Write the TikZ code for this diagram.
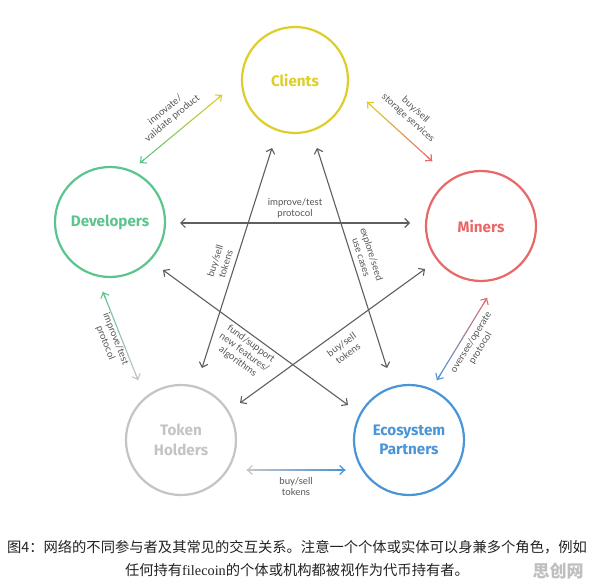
\documentclass[tikz,border=0pt]{standalone}
\usepackage{fontspec}
\setmainfont{Lato}
\newfontfamily\circfont{Fira Sans}
\newfontfamily\cjkfont{Noto Sans CJK SC}
\newfontfamily\capserif{Liberation Serif}
\usetikzlibrary{calc,arrows.meta}

\definecolor{cligold}{RGB}{222,206,42}
\definecolor{devgreen}{RGB}{92,197,142}
\definecolor{minred}{RGB}{232,104,104}
\definecolor{tokgray}{RGB}{196,196,196}
\definecolor{ecoblue}{RGB}{74,148,216}
\definecolor{linkgray}{RGB}{95,95,95}
\definecolor{labgray}{RGB}{85,85,85}
\definecolor{captext}{RGB}{35,35,35}

% line whose colour runs from #3 (at #1) to #4 (at #2)
\newcommand\gradlink[4]{%
  \foreach \k in {0,...,23}{%
    \pgfmathtruncatemacro\mixk{100-\k*100/23}%
    \draw[link, line cap=round, draw={#3!\mixk!#4}] ($(#1)!\k/24!(#2)$) -- ($(#1)!\k/24+1/24!(#2)$);
  }
  \draw[link, <-, draw=#3] (#1) -- ($(#1)!6pt!(#2)$);
  \draw[link, ->, draw=#4] ($(#2)!6pt!(#1)$) -- (#2);
}

\begin{document}
\begin{tikzpicture}
[x=1pt,y=-1pt,
  actor/.style={circle,inner sep=0pt,line width=2.2pt,align=center,
    font=\circfont\bfseries\fontsize{15.2}{19.5}\selectfont},%
  link/.style={line width=1.1pt,draw=linkgray},%
  lab/.style={font=\fontsize{9.6}{11}\selectfont,text=labgray,align=center,inner sep=1pt},%
  >={Straight Barb[length=4.5pt,width=9pt]}]
\path[fill=white,use as bounding box] (0,0) rectangle (596,585);
%% actors
\foreach \name/\x/\y/\sz/\col/\txt in {
  cli/295/80/106/cligold/Clients,
  dev/110/222/110/devgreen/Developers,
  mnr/481/226/110/minred/Miners,
  tok/181/440/110/tokgray/{Token\\Holders},
  eco/409/440/110/ecoblue/{Ecosystem\\Partners}}
{
  \node[actor,draw=\col,text=\col,minimum size=\sz pt] (\name) at (\x,\y) {\txt};
}
%% arrow ends
\coordinate (devcli) at ($(dev)+(30,-59)$);
\coordinate (clidev) at ($(cli)+(-73,15)$);
\coordinate (climnr) at ($(cli)+(72,22)$);
\coordinate (mnrcli) at ($(mnr)+(-49,-65)$);
\coordinate (devmnr) at ($(dev)+(70,1)$);
\coordinate (mnrdev) at ($(mnr)+(-71,-3)$);
\coordinate (clitok) at ($(cli)+(-23,68)$);
\coordinate (tokcli) at ($(tok)+(21,-72)$);
\coordinate (clieco) at ($(cli)+(22,68)$);
\coordinate (ecocli) at ($(eco)+(-22,-72)$);
\coordinate (deveco) at ($(dev)+(53,48)$);
\coordinate (ecodev) at ($(eco)+(-61,-35)$);
\coordinate (mnrtok) at ($(mnr)+(-56,43)$);
\coordinate (tokmnr) at ($(tok)+(59,-37)$);
\coordinate (devtok) at ($(dev)+(-7,70)$);
\coordinate (tokdev) at ($(tok)+(-43,-60)$);
\coordinate (mnreco) at ($(mnr)+(6,72)$);
\coordinate (ecomnr) at ($(eco)+(28,-60)$);
\coordinate (tokeco) at ($(tok)+(66,30)$);
\coordinate (ecotok) at ($(eco)+(-64,30)$);
%% coloured links
\gradlink{devcli}{clidev}{devgreen}{cligold}
\path (devcli) -- (clidev) node[lab,midway,sloped,above=8pt] {innovate/\\validate product};
\gradlink{climnr}{mnrcli}{cligold}{minred}
\path (climnr) -- (mnrcli) node[lab,pos=0.47,sloped,above=10pt] {buy/sell\\storage services};
\gradlink{devtok}{tokdev}{devgreen}{tokgray}
\path (devtok) -- (tokdev) node[lab,pos=0.51,sloped,below=0pt] {improve/test\\protocol};
\gradlink{mnreco}{ecomnr}{minred}{ecoblue}
\path (ecomnr) -- (mnreco) node[lab,pos=0.52,sloped,below=4pt] {oversee/operate\\protocol};
\gradlink{tokeco}{ecotok}{tokgray}{ecoblue}
\path (tokeco) -- (ecotok) node[lab,midway,below=6pt] {buy/sell\\tokens};
%% grey links
\draw[link,<->] (devmnr) -- (mnrdev) node[lab,midway,above=3pt] {improve/test\\protocol};
\draw[link,<->] (tokcli) -- (clitok) node[lab,pos=0.46,sloped,above=4pt] {buy/sell\\tokens};
\draw[link,<->] (clieco) -- (ecocli) node[lab,pos=0.51,sloped,above=4pt] {explore/seed\\use cases};
\draw[link,<->] (deveco) -- (ecodev) node[lab,pos=0.5,sloped,below=2pt] {fund/support\\new features/\\algorithms};
\draw[link,<->] (tokmnr) -- (mnrtok) node[lab,pos=0.51,sloped,below=7pt] {buy/sell\\tokens};
%% caption
\node[font=\cjkfont\fontsize{14.3}{23}\selectfont,text=captext,align=center] (cap) at (297,558)
  {图4：网络的不同参与者及其常见的交互关系。注意一个个体或实体可以身兼多个角色，例如\\
   任何持有{\capserif filecoin}的个体或机构都被视作为代币持有者。};
\node[font=\cjkfont\bfseries\fontsize{17}{17}\selectfont,text=black!25] (mark) at (558,571) {思创网};
\end{tikzpicture}
\end{document}
